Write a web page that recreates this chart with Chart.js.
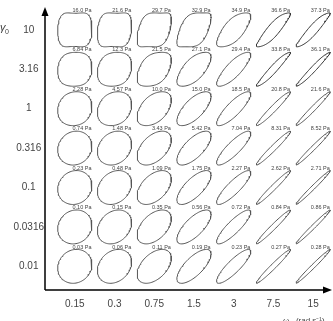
<!DOCTYPE html>
<html lang="en">
<head>
<meta charset="UTF-8" />
<title>Pipkin diagram</title>
<script src="https://cdn.jsdelivr.net/npm/chart.js"></script>
<style>
  html, body { margin: 0; padding: 0; background: #fff; }
</style>
</head>
<body>
<canvas id="pipkin" width="333" height="321"></canvas>
<script>
// angular frequency (rad/s), one per column
const freqLabels = ["0.15", "0.3", "0.75", "1.5", "3", "7.5", "15"];
// strain amplitude, top row first
const strainLabels = ["10", "3.16", "1", "0.316", "0.1", "0.0316", "0.01"];

// peak stress printed over each loop (Pa), top row first
const stressPa = [
  ["16.0", "21.6", "29.7", "32.9", "34.9", "36.6", "37.3"],
  ["6.84", "12.3", "21.5", "27.1", "29.4", "33.8", "36.1"],
  ["2.28", "4.57", "10.0", "15.0", "18.5", "20.8", "21.6"],
  ["0.74", "1.48", "3.43", "5.42", "7.04", "8.31", "8.52"],
  ["0.23", "0.48", "1.09", "1.75", "2.27", "2.62", "2.71"],
  ["0.10", "0.15", "0.35", "0.56", "0.72", "0.84", "0.86"],
  ["0.03", "0.06", "0.11", "0.19", "0.23", "0.27", "0.28"]
];

// phase lag stress vs strain in degrees (how open each loop is)
const phaseDeg = [
  [88, 82, 68, 58, 44, 26, 20],
  [86, 80, 64, 48, 34, 16, 12],
  [84, 78, 62, 46, 32, 14, 11],
  [84, 78, 62, 46, 31, 13, 10],
  [84, 76, 62, 44, 30, 12, 9],
  [84, 76, 62, 44, 30, 12, 9],
  [84, 76, 62, 44, 30, 12, 9]
];

// 3rd harmonic share of the stress (squareness of the loop)
const thirdHarm = [
  [0.15, 0.15, 0.14, 0.12, 0.05, 0.05, 0.04],
  [0.06, 0.05, 0.06, 0.03, 0.02, 0.03, 0.02],
  [0.02, 0.02, 0.02, 0.01, 0.01, 0.01, 0.01],
  [0, 0, 0, 0, 0, 0, 0],
  [0, 0, 0, 0, 0, 0, 0],
  [0, 0, 0, 0, 0, 0, 0],
  [0, 0, 0, 0, 0, 0, 0]
];

const HALF = 0.43;   // loop half size in cell units
const STEPS = 90;
const nRows = strainLabels.length;
const rowPos = i => nRows - 1 - i;

function loop(col, row, deg, e3) {
  const d = deg * Math.PI / 180;
  const raw = [];
  for (let k = 0; k <= STEPS; k++) {
    const t = 2 * Math.PI * k / STEPS;
    raw.push([Math.sin(t), Math.sin(t + d) + e3 * Math.sin(3 * (t + d))]);
  }
  const peak = Math.max(...raw.map(p => Math.abs(p[1])));
  return raw.map(([g, s]) => ({ x: col + HALF * g, y: row + HALF * s / peak }));
}

const datasets = [];
strainLabels.forEach((_, i) => {
  freqLabels.forEach((_, j) => {
    datasets.push({
      data: loop(j, rowPos(i), phaseDeg[i][j], thirdHarm[i][j]),
      borderColor: i < 2 && j > 4 ? "#333" : "#555",
      borderWidth: 1,
      pointRadius: 0,
      showLine: true,
      tension: 0
    });
  });
});

const annotate = {
  id: "annotate",
  afterDraw(chart) {
    const { ctx, chartArea: a, scales: { x, y } } = chart;
    ctx.save();

    // stress labels over each loop
    ctx.font = "5.5px Arial";
    ctx.fillStyle = "#444";
    ctx.textAlign = "right";
    ctx.textBaseline = "middle";
    stressPa.forEach((row, i) => row.forEach((v, j) => {
      ctx.fillText(v + " Pa", x.getPixelForValue(j + 0.42), y.getPixelForValue(rowPos(i) + 0.49));
    }));

    // axes with arrow heads
    ctx.strokeStyle = "#000";
    ctx.fillStyle = "#000";
    ctx.lineWidth = 1.5;
    ctx.beginPath();
    ctx.moveTo(a.left, a.bottom);
    ctx.lineTo(a.left, a.top + 6);
    ctx.moveTo(a.left, a.bottom);
    ctx.lineTo(a.right - 7, a.bottom);
    ctx.stroke();
    ctx.beginPath();
    ctx.moveTo(a.left, a.top);
    ctx.lineTo(a.left - 3.5, a.top + 9);
    ctx.lineTo(a.left + 3.5, a.top + 9);
    ctx.closePath();
    ctx.fill();
    ctx.beginPath();
    ctx.moveTo(a.right - 1, a.bottom);
    ctx.lineTo(a.right - 10, a.bottom - 3.5);
    ctx.lineTo(a.right - 10, a.bottom + 3.5);
    ctx.closePath();
    ctx.fill();

    // axis titles
    ctx.fillStyle = "#444";
    ctx.textAlign = "left";
    ctx.textBaseline = "alphabetic";
    ctx.font = "italic 11px Arial";
    ctx.fillText("\u03b3", 0, y.getPixelForValue(rowPos(0)) + 1);
    ctx.font = "7px Arial";
    ctx.fillText("0", 5, y.getPixelForValue(rowPos(0)) + 4);
    ctx.font = "8px Arial";
    ctx.textBaseline = "top";
    ctx.fillText("\u03c9   (rad s\u207b\u00b9)", 283, 317);
    ctx.restore();
  }
};

new Chart(document.getElementById("pipkin"), {
  type: "scatter",
  data: { datasets },
  plugins: [annotate],
  options: {
    responsive: false,
    animation: false,
    layout: { padding: { top: 3, right: 0, left: 0, bottom: 0 } },
    plugins: { legend: { display: false }, tooltip: { enabled: false } },
    scales: {
      x: {
        min: -0.75,
        max: 6.5,
        grid: { display: false, drawTicks: false },
        border: { display: false },
        afterBuildTicks: s => { s.ticks = freqLabels.map((_, j) => ({ value: j })); },
        afterFit: s => { s.height = 31; },
        ticks: {
          padding: 8,
          color: "#444",
          font: { family: "Arial", size: 10 },
          callback: v => freqLabels[v]
        }
      },
      y: {
        min: -0.6,
        max: 6.58,
        grid: { display: false, drawTicks: false },
        border: { display: false },
        afterBuildTicks: s => { s.ticks = strainLabels.map((_, i) => ({ value: rowPos(i) })); },
        afterFit: s => { s.width = 45; },
        ticks: {
          padding: 1,
          crossAlign: "center",
          color: "#444",
          font: { family: "Arial", size: 10 },
          callback: v => strainLabels[nRows - 1 - v]
        }
      }
    }
  }
});
</script>
</body>
</html>
